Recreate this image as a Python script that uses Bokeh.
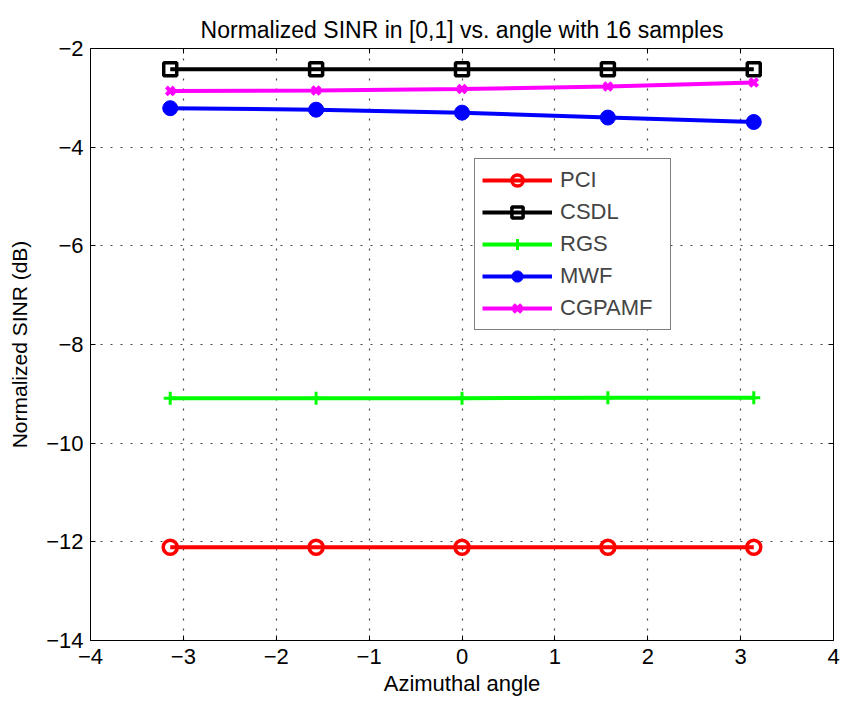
import numpy as np
from bokeh.plotting import figure
from bokeh.models import Range1d, LinearAxis, FixedTicker, Legend, LegendItem
from bokeh.embed import file_html
from bokeh.resources import INLINE

angles = [-3.1416, -1.5708, 0.0, 1.5708, 3.1416]
pci = [-12.11, -12.11, -12.11, -12.11, -12.11]
csdl = [-2.42, -2.42, -2.42, -2.42, -2.42]
rgs = [-9.09, -9.09, -9.09, -9.08, -9.08]
mwf = [-3.21, -3.24, -3.30, -3.40, -3.49]
cgpamf = [-2.86, -2.85, -2.82, -2.77, -2.69]

x_ticks = [-4, -3, -2, -1, 0, 1, 2, 3, 4]
y_ticks = [-14, -12, -10, -8, -6, -4, -2]

FONT = "Liberation Sans"

p = figure(width=845, height=704, output_backend="svg", toolbar_location=None,
           x_range=Range1d(-4, 4), y_range=Range1d(-14, -2),
           min_border_left=90, min_border_right=12, min_border_top=48, min_border_bottom=64)
p.title.text = "Normalized SINR in [0,1] vs. angle with 16 samples"
p.title.align = "center"
p.title.text_font = FONT
p.title.text_font_size = "23px"
p.title.text_font_style = "normal"
p.title.text_color = "black"
p.title.offset = 0
p.title.standoff = 12

p.outline_line_color = "black"
p.outline_line_width = 1
p.outline_line_alpha = 1

def minus(v):
    return str(v).replace("-", "\u2212")

for ax in (p.xaxis[0], p.yaxis[0]):
    ax.major_tick_in = 5
    ax.major_tick_out = 0
    ax.minor_tick_in = 0
    ax.minor_tick_out = 0
    ax.axis_line_color = None
    ax.major_label_text_font = FONT
    ax.major_label_text_font_size = "22px"
    ax.major_label_text_color = "black"
    ax.axis_label_text_font = FONT
    ax.axis_label_text_font_style = "normal"
    ax.axis_label_text_color = "black"

p.xaxis[0].axis_label_text_font_size = "22px"
p.yaxis[0].axis_label_text_font_size = "21px"
p.xaxis.ticker = FixedTicker(ticks=x_ticks)
p.yaxis.ticker = FixedTicker(ticks=y_ticks)
p.xaxis.major_label_overrides = {t: minus(t) for t in x_ticks}
p.yaxis.major_label_overrides = {t: minus(t) for t in y_ticks}
p.xaxis.axis_label = "Azimuthal angle"
p.yaxis.axis_label = "Normalized SINR (dB)"
p.xaxis.major_label_standoff = 8
p.yaxis.major_label_standoff = 7
p.xaxis.axis_label_standoff = 4
p.yaxis.axis_label_standoff = 12

# top and right ticks (no labels)
top = LinearAxis(ticker=FixedTicker(ticks=x_ticks),
                 major_label_overrides={t: "" for t in x_ticks},
                 major_tick_in=5, major_tick_out=0, minor_tick_in=0, minor_tick_out=0,
                 axis_line_color=None, major_label_standoff=0)
right = LinearAxis(ticker=FixedTicker(ticks=y_ticks),
                   major_label_overrides={t: "" for t in y_ticks},
                   major_tick_in=5, major_tick_out=0, minor_tick_in=0, minor_tick_out=0,
                   axis_line_color=None, major_label_standoff=0)
p.add_layout(top, "above")
p.add_layout(right, "right")

p.xgrid.ticker = FixedTicker(ticks=x_ticks)
p.ygrid.ticker = FixedTicker(ticks=y_ticks)
for g in (p.xgrid[0], p.ygrid[0]):
    g.grid_line_color = "#333333"
    g.grid_line_dash = "2 8"
    g.grid_line_alpha = 0.9
    g.grid_line_width = 1.2

items = []
lw = 4

l1 = p.line(angles, pci, line_color="red", line_width=lw)
m1 = p.scatter(angles, pci, marker="circle", size=14, fill_color=None, line_color="red", line_width=3.5)
items.append(LegendItem(label="PCI", renderers=[l1, m1]))

l2 = p.line(angles, csdl, line_color="black", line_width=lw)
m2 = p.scatter(angles, csdl, marker="square", size=13, fill_color=None, line_color="black", line_width=3.5)
items.append(LegendItem(label="CSDL", renderers=[l2, m2]))

l3 = p.line(angles, rgs, line_color="lime", line_width=lw)
m3 = p.scatter(angles, rgs, marker="cross", size=13, line_color="lime", line_width=3)
items.append(LegendItem(label="RGS", renderers=[l3, m3]))

l4 = p.line(angles, mwf, line_color="blue", line_width=lw)
m4 = p.scatter(angles, mwf, marker="circle", size=15, fill_color="blue", line_color="blue", line_width=1)
items.append(LegendItem(label="MWF", renderers=[l4, m4]))

l5 = p.line(angles, cgpamf, line_color="magenta", line_width=lw)
m5 = p.scatter(angles, cgpamf, marker="x", size=11, line_color="magenta", line_width=4)
items.append(LegendItem(label="CGPAMF", renderers=[l5, m5]))

legend = Legend(items=items, location=(384, 310))
legend.border_line_color = "black"
legend.border_line_width = 1
legend.label_text_font = FONT
legend.label_text_font_size = "22px"
legend.glyph_width = 70
legend.glyph_height = 28
legend.label_height = 28
legend.label_width = 103
legend.spacing = 4
legend.padding = 7
legend.margin = 0
legend.label_standoff = 8
legend.background_fill_alpha = 1
p.add_layout(legend, "center")

open("out.html", "w").write(file_html(p, INLINE))
